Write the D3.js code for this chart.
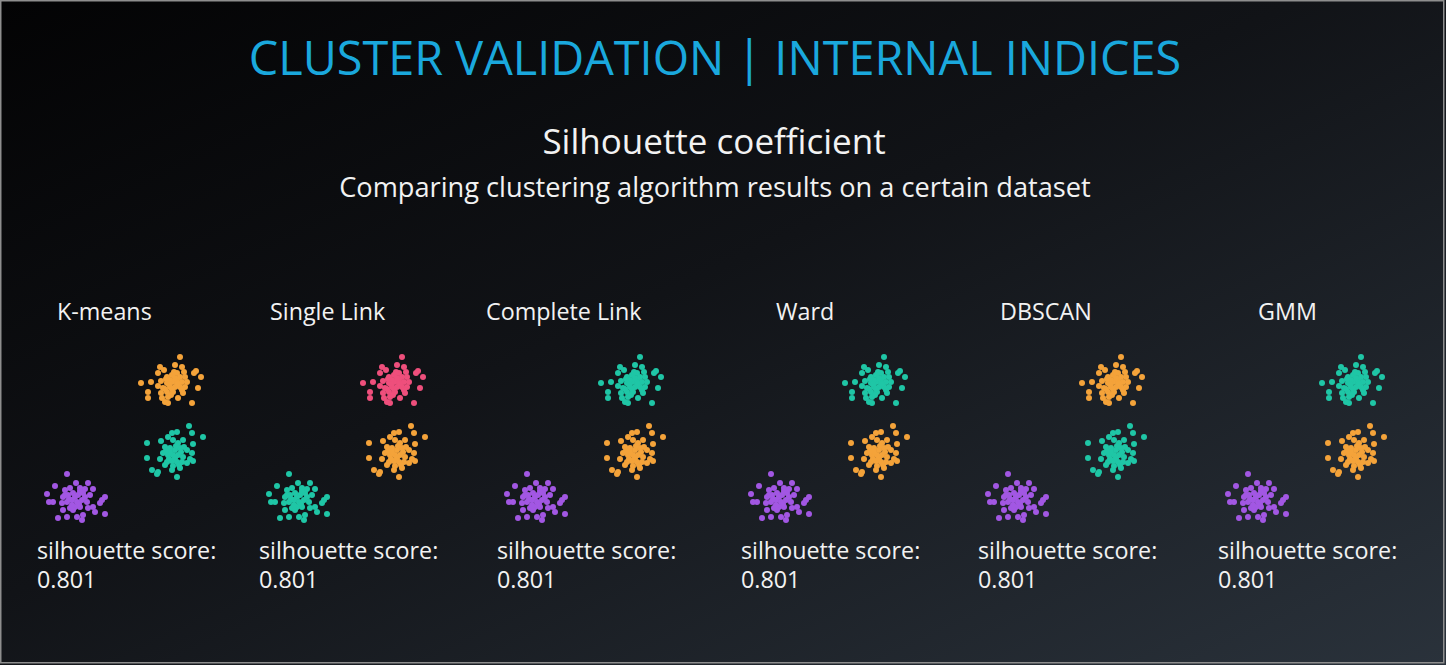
<!DOCTYPE html>
<html>
<head>
<meta charset="utf-8">
<script src="https://cdn.jsdelivr.net/npm/d3@7"></script>
<style>
  html, body { margin: 0; padding: 0; background: #000; }
  svg { display: block; font-family: "Open Sans", sans-serif; }
</style>
</head>
<body>
<svg id="chart" width="1446" height="665"></svg>
<script>
// clustering methods shown, left to right
const methods = ["K-means", "Single Link", "Complete Link", "Ward", "DBSCAN", "GMM"]
const scores = [0.801, 0.801, 0.801, 0.801, 0.801, 0.801]

// colour of each blob (top, middle, bottom) per method
const blobColors = [
	["orange", "teal", "purple"],
	["pink", "orange", "teal"],
	["teal", "orange", "purple"],
	["teal", "orange", "purple"],
	["orange", "teal", "purple"],
	["teal", "orange", "purple"]
]

// blob centres in data units
const blobCenters = [[135, 33], [139, 101], [40, 146]]

// points of each blob, as offsets from its centre (data units)
const blobTop = [
	[8,-27],[-12,-17],[3,-19],[10,-17],[24,-13],[22,-11],[29,-7],[-8,-14],[-14,-11],[-31,-1],
	[-21,-2],[-11,-3],[-5,-7],[0,-9],[5,-11],[13,-7],[15,-2],[10,-2],[5,-4],[0,-2],
	[-5,-1],[-14,2],[-9,4],[-2,3],[3,3],[8,3],[13,3],[26,4],[-24,8],[-24,14],
	[-11,9],[-5,8],[1,8],[11,9],[-10,14],[-4,13],[-4,19],[6,14],[20,19],[-7,18],
	[5,-1],[8,-7],[-2,-4],[3,-6],[10,6],[-3,0],[0,5],[6,0],[-7,5],[2,-12],
	[-6,-5],[12,-12],[-1,11]
]
const blobMid = [
	[13,-26],[16,-19],[1,-20],[-4,-19],[-8,-15],[27,-15],[-15,-11],[-29,-9],[7,-12],[17,-8],
	[-3,-12],[2,-9],[-11,-5],[-6,-4],[-1,-2],[4,-4],[11,-2],[16,1],[-13,1],[-8,3],
	[-3,3],[2,3],[7,5],[-29,6],[-16,7],[14,7],[17,9],[-9,10],[-4,9],[1,10],
	[6,10],[-24,18],[-18,20],[-19,22],[-4,18],[4,16],[1,25],[-11,13],[-3,14],[11,11],
	[-6,0],[0,-6],[5,0],[-1,6],[-10,-1],[8,-5],[3,13],[-7,7]
]
const blobLow = [
	[-10,-23],[-22,-11],[-1,-14],[11,-14],[16,-8],[-30,-3],[-28,5],[-24,5],[-12,-7],[-7,-9],
	[3,-9],[-14,0],[-9,-2],[-4,-4],[1,-2],[6,-4],[13,-2],[28,0],[25,3],[-15,6],
	[-10,5],[-5,3],[0,5],[5,3],[10,5],[23,6],[-14,13],[-7,11],[-2,10],[3,10],
	[11,11],[-19,21],[-10,20],[0,20],[6,18],[18,15],[28,17],[5,23],[-4,13],[16,10],
	[-2,0],[3,-6],[-8,2],[8,0],[-5,8],[2,7],[-12,-2],[8,-8]
]
const blobs = [blobTop, blobMid, blobLow]

const palette = {
	orange: "#f4a33a",
	teal: "#1fc6a6",
	purple: "#a257e3",
	pink: "#ee4f7c"
}

const W = 1446, H = 665
const svg = d3.select("#chart")

// background gradient
const defs = svg.append("defs")
const grad = defs.append("linearGradient")
	.attr("id", "bg")
	.attr("x1", "0%").attr("y1", "0%")
	.attr("x2", "100%").attr("y2", "100%")
grad.append("stop").attr("offset", "0%").attr("stop-color", "#030304")
grad.append("stop").attr("offset", "45%").attr("stop-color", "#111317")
grad.append("stop").attr("offset", "100%").attr("stop-color", "#2a323b")

svg.append("rect")
	.attr("width", W).attr("height", H)
	.attr("fill", "url(#bg)")
svg.append("rect")
	.attr("x", 0.75).attr("y", 0.75)
	.attr("width", W - 3).attr("height", H - 3)
	.attr("fill", "none")
	.attr("stroke", "#8e8e8e")
	.attr("stroke-width", 1.5)

// headings
svg.append("text")
	.attr("x", 715).attr("y", 75)
	.attr("text-anchor", "middle")
	.attr("fill", "#1aa8dd")
	.style("font-size", "46.8px")
	.text("CLUSTER VALIDATION | INTERNAL INDICES")

svg.append("text")
	.attr("x", 714).attr("y", 154)
	.attr("text-anchor", "middle")
	.attr("fill", "#f2f2f2")
	.style("font-size", "35px")
	.text("Silhouette coefficient")

svg.append("text")
	.attr("x", 715).attr("y", 197)
	.attr("text-anchor", "middle")
	.attr("fill", "#f2f2f2")
	.style("font-size", "27.2px")
	.text("Comparing clustering algorithm results on a certain dataset")

// where each panel starts
const panelLeft = d3.scaleOrdinal()
	.domain(methods)
	.range([37, 259, 497, 741, 978, 1218])
const labelOffset = d3.scaleOrdinal()
	.domain(methods)
	.range([20, 11, -11, 35, 22, 40])

const panels = svg.selectAll("g.panel")
	.data(methods)
	.join("g")
	.attr("class", "panel")

panels.each(function (m, i) {
	const g = d3.select(this)
	const left = panelLeft(m)
	const x = d3.scaleLinear().domain([0, 200]).range([left, left + 200])
	const y = d3.scaleLinear().domain([0, 200]).range([351, 551])

	g.append("text")
		.attr("x", left + labelOffset(m))
		.attr("y", 320)
		.attr("fill", "#f2f2f2")
		.style("font-size", "23.3px")
		.text(m)

	blobs.forEach((pts, b) => {
		const [cx, cy] = blobCenters[b]
		g.append("g")
			.selectAll("circle")
			.data(pts)
			.join("circle")
			.attr("cx", d => x(cx + d[0]))
			.attr("cy", d => y(cy + d[1]))
			.attr("r", 3)
			.attr("fill", palette[blobColors[i][b]])
	})

	g.append("text")
		.attr("x", left)
		.attr("y", 559)
		.attr("fill", "#f2f2f2")
		.style("font-size", "23.3px")
		.text("silhouette score:")

	g.append("text")
		.attr("x", left)
		.attr("y", 588)
		.attr("fill", "#f2f2f2")
		.style("font-size", "23.3px")
		.text(d3.format(".3f")(scores[i]))
})
</script>
</body>
</html>
